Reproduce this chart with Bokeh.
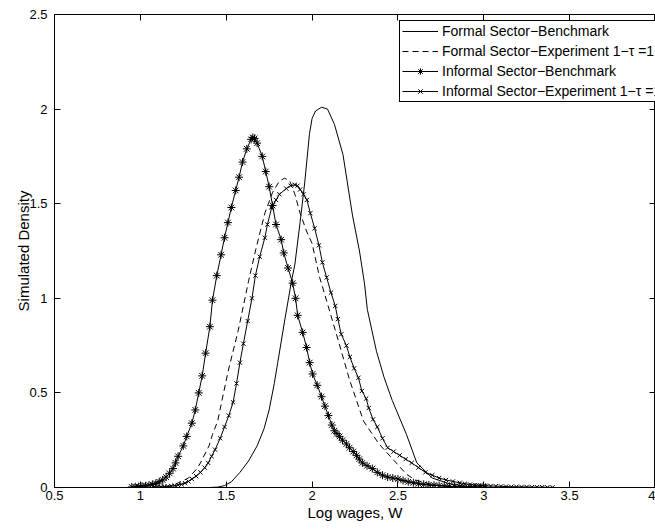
from bokeh.plotting import figure
from bokeh.models import (Range1d, LinearAxis, FixedTicker, Legend, LegendItem,
                          CustomLabelingPolicy)
from bokeh.embed import file_html
from bokeh.resources import INLINE

x_ticks = [0.5, 1, 1.5, 2, 2.5, 3, 3.5, 4]
x_tick_labels = ["0.5", "1", "1.5", "2", "2.5", "3", "3.5", "4"]
y_ticks = [0, 0.5, 1, 1.5, 2, 2.5]
y_tick_labels = ["0", "0.5", "1", "1.5", "2", "2.5"]

series_labels = [
    "Formal Sector\u2212Benchmark",
    "Formal Sector\u2212Experiment 1\u2212\u03c4 =1",
    "Informal Sector\u2212Benchmark",
    "Informal Sector\u2212Experiment 1\u2212\u03c4 =1",
]

# Formal sector, benchmark (solid)
fb_x = [1.40, 1.45, 1.49, 1.53, 1.58, 1.63, 1.68, 1.72, 1.75, 1.78, 1.80, 1.84, 1.88, 1.90,
        1.93, 1.957, 1.985, 2.00, 2.02, 2.055, 2.09, 2.13, 2.18, 2.235, 2.276, 2.305, 2.322,
        2.375, 2.42, 2.467, 2.55, 2.61, 2.70, 2.80, 2.90, 3.00]
fb_y = [0.0, 0.002, 0.01, 0.03, 0.08, 0.14, 0.22, 0.31, 0.41, 0.55, 0.66, 0.88, 1.09, 1.18,
        1.40, 1.61, 1.87, 1.95, 1.99, 2.01, 2.0, 1.92, 1.76, 1.44, 1.25, 1.08, 0.94,
        0.72, 0.58, 0.46, 0.28, 0.13, 0.05, 0.02, 0.005, 0.001]

# Formal sector, experiment (dashed)
fe_x = [1.15, 1.21, 1.28, 1.33, 1.35, 1.40, 1.42, 1.45, 1.51, 1.57, 1.63, 1.67, 1.725, 1.77,
        1.81, 1.84, 1.87, 1.90, 1.93, 1.97, 2.0, 2.044, 2.061, 2.142, 2.218, 2.30, 2.39,
        2.49, 2.55, 2.60, 2.70, 2.80]
fe_y = [0.0, 0.02, 0.05, 0.10, 0.13, 0.22, 0.28, 0.35, 0.61, 0.83, 1.09, 1.25, 1.45, 1.56,
        1.62, 1.635, 1.62, 1.55, 1.45, 1.35, 1.29, 1.11, 1.06, 0.81, 0.57, 0.35, 0.23,
        0.13, 0.07, 0.04, 0.015, 0.005]

# Informal sector, benchmark (asterisks)
ib_x = [0.95, 0.97, 0.99, 1.01, 1.03, 1.05, 1.07, 1.09, 1.11, 1.13, 1.15, 1.17, 1.19, 1.205,
        1.22, 1.25, 1.27, 1.30, 1.32, 1.34, 1.36, 1.38, 1.405, 1.42, 1.445, 1.47, 1.49, 1.51,
        1.53, 1.555, 1.575, 1.595, 1.62, 1.645, 1.655, 1.665, 1.68, 1.71, 1.73, 1.75, 1.77,
        1.79, 1.82, 1.835, 1.86, 1.887, 1.904, 1.916, 1.945, 1.968, 1.986, 2.003, 2.03, 2.055,
        2.075, 2.095, 2.115, 2.13, 2.145, 2.16, 2.177, 2.20, 2.218, 2.24, 2.259, 2.275, 2.293,
        2.32, 2.351, 2.38, 2.41, 2.44, 2.47, 2.50, 2.53, 2.56, 2.59, 2.62, 2.65, 2.68, 2.71,
        2.74, 2.77, 2.80, 2.83, 2.86, 2.89, 2.92, 2.95, 2.98, 3.01]
ib_y = [0.003, 0.004, 0.005, 0.007, 0.009, 0.012, 0.016, 0.022, 0.03, 0.04, 0.055, 0.075, 0.10, 0.13,
        0.165, 0.22, 0.27, 0.34, 0.41, 0.50, 0.59, 0.71, 0.85, 0.99, 1.12, 1.23, 1.32, 1.40,
        1.48, 1.57, 1.64, 1.72, 1.79, 1.84, 1.85, 1.845, 1.82, 1.75, 1.67, 1.59, 1.49,
        1.39, 1.31, 1.24, 1.16, 1.08, 1.0, 0.91, 0.82, 0.74, 0.66, 0.60, 0.54, 0.48,
        0.43, 0.38, 0.33, 0.30, 0.285, 0.27, 0.25, 0.23, 0.21, 0.19, 0.17, 0.15, 0.13,
        0.115, 0.10, 0.08, 0.065, 0.055, 0.05, 0.045, 0.037, 0.03, 0.025, 0.02, 0.017, 0.014, 0.012,
        0.01, 0.008, 0.006, 0.005, 0.004, 0.003, 0.002, 0.002, 0.001, 0.001]

# Informal sector, experiment (crosses)
ie_x = [1.08, 1.10, 1.12, 1.14, 1.16, 1.18, 1.20, 1.22, 1.24, 1.26, 1.28, 1.30, 1.325, 1.35,
        1.375, 1.395, 1.415, 1.435, 1.465, 1.49, 1.515, 1.54, 1.56, 1.58, 1.60, 1.625, 1.65,
        1.67, 1.695, 1.725, 1.74, 1.765, 1.79, 1.81, 1.85, 1.875, 1.90, 1.915, 1.93, 1.95,
        1.97, 1.99, 2.015, 2.04, 2.06, 2.085, 2.11, 2.135, 2.15, 2.17, 2.20, 2.22, 2.245,
        2.27, 2.29, 2.315, 2.33, 2.355, 2.38, 2.41, 2.44, 2.475, 2.51, 2.545, 2.58, 2.62,
        2.66, 2.70, 2.74, 2.78, 2.82, 2.86, 2.89, 2.92, 2.95, 2.98, 3.01, 3.04, 3.07, 3.10,
        3.13, 3.16, 3.19, 3.22, 3.25, 3.28, 3.31, 3.34, 3.37, 3.40]
ie_y = [0.002, 0.003, 0.004, 0.005, 0.006, 0.008, 0.01, 0.013, 0.017, 0.023, 0.032, 0.045, 0.06, 0.08,
        0.105, 0.13, 0.165, 0.20, 0.26, 0.32, 0.38, 0.45, 0.55, 0.66, 0.76, 0.88, 1.0,
        1.12, 1.22, 1.32, 1.39, 1.48, 1.52, 1.55, 1.58, 1.595, 1.60, 1.595, 1.575, 1.55,
        1.52, 1.45, 1.37, 1.28, 1.19, 1.11, 1.03, 0.96, 0.89, 0.81, 0.75, 0.69, 0.63,
        0.58, 0.51, 0.47, 0.42, 0.36, 0.32, 0.26, 0.21, 0.19, 0.17, 0.15, 0.13, 0.105,
        0.08, 0.065, 0.05, 0.04, 0.032, 0.025, 0.02, 0.016, 0.013, 0.011, 0.009, 0.008, 0.007, 0.006,
        0.005, 0.004, 0.004, 0.003, 0.003, 0.002, 0.002, 0.002, 0.001, 0.001]

FONT = "Liberation Sans"

p = figure(width=655, height=529, x_range=Range1d(0.5, 4), y_range=Range1d(0, 2.5),
           output_backend="svg", toolbar_location=None,
           min_border_left=54, min_border_right=0, min_border_top=14, min_border_bottom=42)
p.xgrid.visible = False
p.ygrid.visible = False
p.outline_line_color = "black"
p.outline_line_alpha = 1
p.background_fill_color = "white"
p.border_fill_color = "white"

no_labels = CustomLabelingPolicy(code="for (const i of indices) indices.unset(i); return indices")


def style_axis(ax, ticks, labels, show_labels=True):
    ax.ticker = FixedTicker(ticks=ticks)
    ax.major_label_overrides = {t: l for t, l in zip(ticks, labels)}
    ax.major_tick_in = 6
    ax.major_tick_out = 0
    ax.minor_tick_in = 0
    ax.minor_tick_out = 0
    ax.axis_line_color = "black"
    ax.major_tick_line_color = "black"
    ax.major_label_text_font = FONT
    ax.major_label_text_color = "black"
    ax.axis_label_text_font = FONT
    ax.axis_label_text_font_style = "normal"
    ax.axis_label_text_color = "black"
    if show_labels:
        ax.major_label_text_font_size = "13px"
        ax.axis_label_text_font_size = "15px"
        ax.major_label_standoff = 3
        ax.axis_label_standoff = 1
    else:
        ax.major_label_text_font_size = "0px"
        ax.major_label_standoff = 0
        ax.axis_label_standoff = 0
        ax.major_label_policy = no_labels


p.xaxis.axis_label = "Log wages, W"
p.yaxis.axis_label = "Simulated Density"
style_axis(p.xaxis[0], x_ticks, x_tick_labels)
style_axis(p.yaxis[0], y_ticks, y_tick_labels)
p.yaxis[0].major_label_standoff = 7
p.yaxis[0].axis_label_standoff = -6

top = LinearAxis()
style_axis(top, x_ticks, x_tick_labels, show_labels=False)
p.add_layout(top, "above")
right = LinearAxis()
style_axis(right, y_ticks, y_tick_labels, show_labels=False)
p.add_layout(right, "right")

r_fb = p.line(fb_x, fb_y, line_color="black", line_width=1)
r_fe = p.line(fe_x, fe_y, line_color="black", line_width=1, line_dash="6 4")
r_ib = p.line(ib_x, ib_y, line_color="black", line_width=1)
m_ib = p.scatter(ib_x, ib_y, marker="asterisk", size=8, line_color="black", line_width=1)
r_ie = p.line(ie_x, ie_y, line_color="black", line_width=1)
m_ie = p.scatter(ie_x, ie_y, marker="x", size=6, line_color="black", line_width=1)

legend = Legend(items=[
    LegendItem(label=series_labels[0], renderers=[r_fb]),
    LegendItem(label=series_labels[1], renderers=[r_fe]),
    LegendItem(label=series_labels[2], renderers=[r_ib, m_ib]),
    LegendItem(label=series_labels[3], renderers=[r_ie, m_ie]),
], location=(345, 385))
legend.label_text_font = FONT
legend.label_text_font_size = "14px"
legend.label_text_color = "black"
legend.glyph_width = 36
legend.glyph_height = 16
legend.label_height = 16
legend.label_standoff = 4
legend.spacing = 4
legend.padding = 2
legend.margin = 0
legend.border_line_color = "black"
legend.border_line_width = 1
legend.border_line_alpha = 1
legend.background_fill_color = "white"
legend.background_fill_alpha = 1
p.add_layout(legend)

open("out.html", "w").write(file_html(p, INLINE))
